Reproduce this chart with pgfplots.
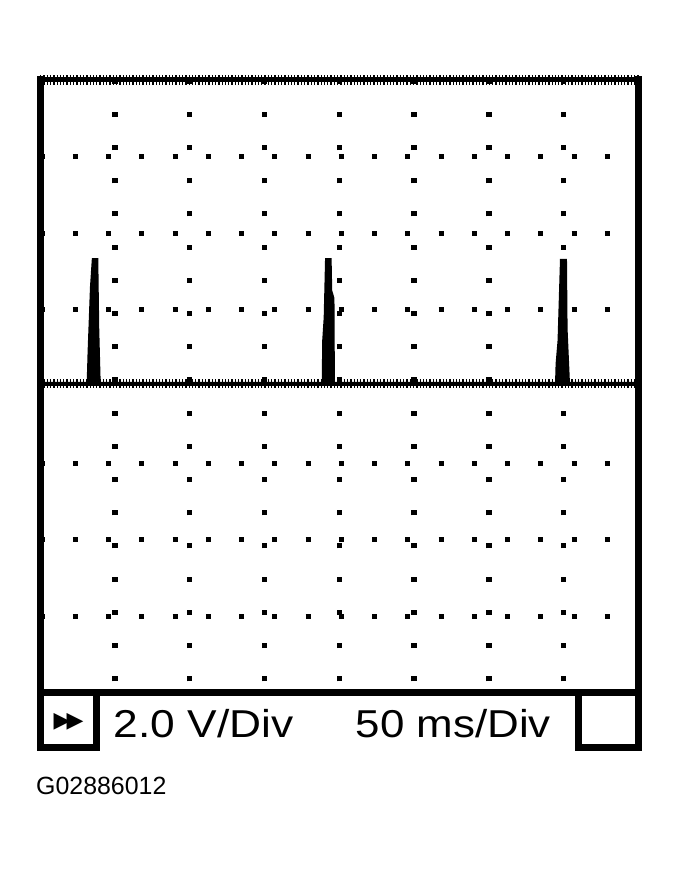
\documentclass[border=0pt]{standalone}
\usepackage{fontspec}
\setmainfont{Liberation Sans}
\newfontfamily\symfont{DejaVu Sans}
\usepackage{graphicx}
\usepackage{pgfplots}
\pgfplotsset{compat=1.18}

\begin{document}
\begin{tikzpicture}[x=1bp,y=1bp]
\useasboundingbox (0,0) rectangle (679,871);
\begin{axis}[
    at={(40bp,178bp)}, anchor=south west,
    scale only axis, width=598.5bp, height=613bp,
    xmin=0, xmax=400, ymin=-8, ymax=8,
    axis line style={draw=none},
    tick style={draw=none},
    major tick length=0pt,
    xtick={50,100,...,350}, ytick={-6,-4,-2,2,4,6},
    xticklabels={}, yticklabels={},
    grid=major,
    major x grid style={black, line width=5.5bp, dash pattern=on 5bp off 28.2bp, dash phase=21.5bp},
    major y grid style={black, line width=5bp, dash pattern=on 5bp off 28.25bp, dash phase=0.5bp},
    clip=false,
  ]
  % trace: 2.0 V/Div, 50 ms/Div
  \addplot[black, line width=3bp, fill=black, line join=miter] coordinates {
    (0,0.08) (32.2,0.08) (32.8,0.9) (34.4,2.6) (35.6,3.31) (37.96,3.31) (38.6,1.5) (39.56,0.08)
    (189.3,0.08) (189.6,1.2) (190.6,1.8) (191.5,3.31) (193.9,3.31) (194.3,2.5) (195.8,2.3) (196.1,0.08)
    (345.2,0.08) (345.6,0.6) (346.9,1.2) (348.5,3.29) (351.2,3.29) (351.6,1.5) (353.2,0.08)
    (400,0.08)
  };
\end{axis}
% screen frame
\draw[line width=5bp] (40,791) -- (638.5,791);
\draw[line width=10bp, dash pattern=on 1.3bp off 2bp] (40,791) -- (638.5,791);
\draw[line width=4.5bp] (40,487) -- (638.5,487);
\draw[line width=9bp, dash pattern=on 1.3bp off 2bp] (40,487) -- (638.5,487);
\draw[line width=7bp, line cap=rect, line join=miter] (40,791) -- (40,123.5) -- (96.5,123.5) -- (96.5,178);
\draw[line width=7bp, line cap=rect, line join=miter] (638.5,791) -- (638.5,123.5) -- (578.5,123.5) -- (578.5,178);
\draw[line width=7bp] (40,178) -- (638.5,178);
% status bar
\node[inner sep=0] at (68.5,149.5) {\symfont\fontsize{22}{22}\selectfont ▶\kern-4bp▶};
\node[anchor=base west, inner sep=0] at (113.5,133) {\scalebox{1.14}[1]{\fontsize{39}{39}\selectfont 2.0 V/Div}};
\node[anchor=base west, inner sep=0] at (355.5,133) {\scalebox{1.13}[1]{\fontsize{39}{39}\selectfont 50 ms/Div}};
\node[anchor=base west, inner sep=0] at (36,76) {\fontsize{25}{25}\selectfont G02886012};
\end{tikzpicture}
\end{document}
